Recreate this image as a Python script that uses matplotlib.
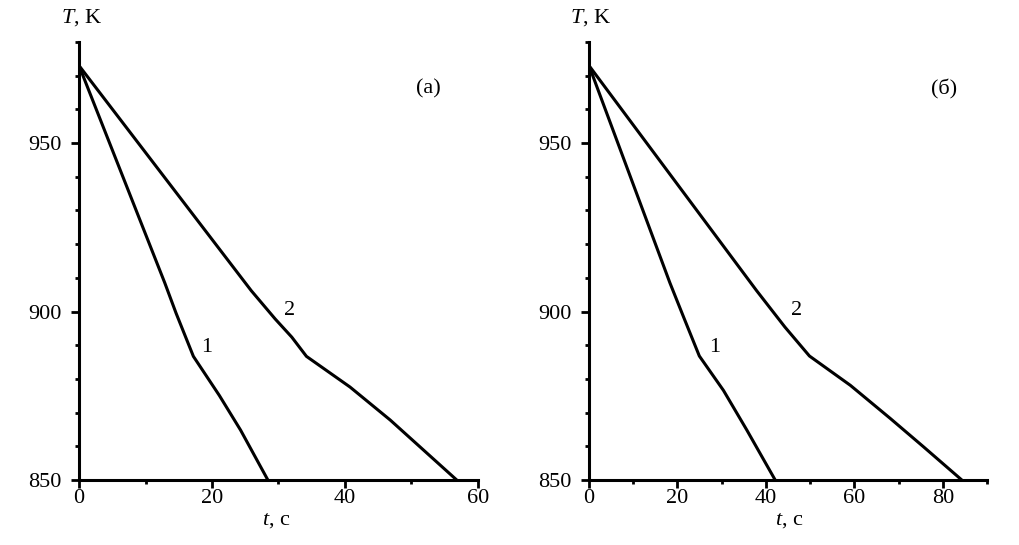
import matplotlib
matplotlib.use("Agg")
import matplotlib.pyplot as plt
from matplotlib.ticker import MultipleLocator

plt.rcParams['font.family'] = ['Liberation Serif', 'DejaVu Serif']
plt.rcParams['mathtext.fontset'] = 'custom'
plt.rcParams['mathtext.it'] = 'Liberation Serif:italic'
plt.rcParams['mathtext.rm'] = 'Liberation Serif'

# panel (а)
t1_a = [0, 12.9, 14.6, 17.2, 21.1, 24.3, 28.4]
T1_a = [973, 908.5, 899.5, 886.7, 875.1, 864.8, 850]
t2_a = [0, 25.9, 29.5, 32.0, 34.2, 40.75, 46.8, 51.8, 56.8]
T2_a = [973, 906.2, 897.8, 892.4, 886.7, 877.6, 867.8, 858.9, 850]

# panel (б)
t1_b = [0, 18.3, 21.5, 24.95, 30.4, 35.7, 42.1]
T1_b = [973, 908.5, 898.0, 886.8, 876.6, 864.8, 850]
t2_b = [0, 37.9, 44.3, 49.85, 59.1, 68.1, 75.6, 84.3]
T2_b = [973, 906.2, 895.4, 886.8, 878.1, 868.3, 859.9, 850]

panels = [
    dict(curves=[(t1_a, T1_a), (t2_a, T2_a)], xmax=60, tag='(а)',
         tagpos=(52.5, 966), lab1=(19.2, 889.3), lab2=(31.6, 900.3)),
    dict(curves=[(t1_b, T1_b), (t2_b, T2_b)], xmax=90, tag='(б)',
         tagpos=(80.4, 966), lab1=(28.5, 889.3), lab2=(46.9, 900.3)),
]

fig = plt.figure(figsize=(10.2, 5.45), dpi=100)
lefts = [79 / 1020, 589 / 1020]
widths = [399 / 1020, 398 / 1020]
bottom = 65 / 545
height = 438 / 545
fs = 16

for i, p in enumerate(panels):
    ax = fig.add_axes([lefts[i], bottom, widths[i], height])
    for t, T in p['curves']:
        ax.plot(t, T, color='black', linewidth=2.2, solid_joinstyle='miter')
    ax.set_xlim(0, p['xmax'])
    ax.set_ylim(850, 980)
    ax.spines['top'].set_visible(False)
    ax.spines['right'].set_visible(False)
    ax.spines['left'].set_linewidth(2.2)
    ax.spines['bottom'].set_linewidth(2.2)
    ax.xaxis.set_major_locator(MultipleLocator(20))
    ax.xaxis.set_minor_locator(MultipleLocator(10))
    ax.yaxis.set_major_locator(MultipleLocator(50))
    ax.yaxis.set_minor_locator(MultipleLocator(10))
    ax.tick_params(which='major', direction='out', length=5.5, width=2, labelsize=fs)
    ax.tick_params(which='minor', direction='out', length=3, width=2)
    ax.tick_params(axis='x', which='major', pad=1)
    ax.tick_params(axis='y', which='major', pad=7)
    ax.text(*p['tagpos'], p['tag'], fontsize=fs, ha='center', va='center')
    ax.text(*p['lab1'], '1', fontsize=fs, ha='center', va='center')
    ax.text(*p['lab2'], '2', fontsize=fs, ha='center', va='center')

fig.text(82 / 1020, 1 - 18 / 545, r'$T$, K', fontsize=fs, ha='center', va='center')
fig.text(591 / 1020, 1 - 18 / 545, r'$T$, K', fontsize=fs, ha='center', va='center')
fig.text(276 / 1020, 1 - 521 / 545, r'$t$, с', fontsize=fs, ha='center', va='center')
fig.text(789 / 1020, 1 - 521 / 545, r'$t$, с', fontsize=fs, ha='center', va='center')

fig.savefig('out.png', dpi=100)
